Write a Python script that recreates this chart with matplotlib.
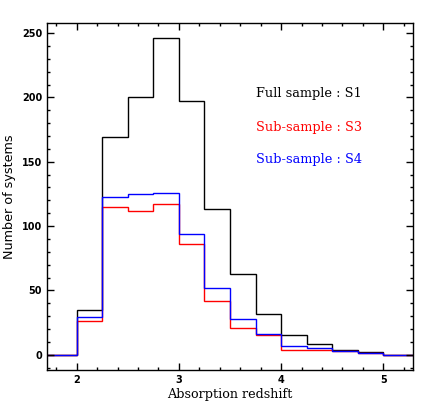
import matplotlib
matplotlib.use("Agg")
import matplotlib.pyplot as plt
from matplotlib.ticker import MultipleLocator

# bin edges in absorption redshift (first / last bins are empty padding)
edges = [1.5, 2.0, 2.25, 2.5, 2.75, 3.0, 3.25, 3.5, 3.75, 4.0, 4.25, 4.5, 4.75, 5.0, 5.5]

# number of systems per bin
full_s1 = [0, 35, 169, 200, 246, 197, 113, 63, 32, 15, 8, 4, 2, 0]
sub_s3 = [0, 26, 115, 112, 117, 86, 42, 21, 15, 4, 4, 3, 1, 0]
sub_s4 = [0, 29, 123, 125, 126, 94, 52, 28, 16, 7, 5, 3, 1, 0]

labels = ["Full sample : S1", "Sub-sample : S3", "Sub-sample : S4"]
colors = ["black", "red", "blue"]

fig = plt.figure(figsize=(4.36, 4.15), dpi=100)
ax = fig.add_axes([0.108, 0.108, 0.839, 0.837])

for vals, c in zip([full_s1, sub_s3, sub_s4], colors):
    ax.stairs(vals, edges, baseline=None, color=c, lw=1.0)

# labels in the upper right, coloured like the lines
for lab, c, yv in zip(labels, colors, [203, 177, 152]):
    ax.text(3.75, yv, lab, color=c, fontsize=9.3, family="DejaVu Serif",
            va="center", ha="left")

ax.set_xlim(1.71, 5.29)
ax.set_ylim(-12, 258)
ax.xaxis.set_major_locator(MultipleLocator(1))
ax.xaxis.set_minor_locator(MultipleLocator(0.2))
ax.yaxis.set_major_locator(MultipleLocator(50))
ax.yaxis.set_minor_locator(MultipleLocator(10))
ax.tick_params(which="both", direction="in", top=True, right=True,
               labelsize=7, width=1.0)
ax.tick_params(which="major", length=5)
ax.tick_params(which="minor", length=2.5)
for lbl in ax.get_xticklabels() + ax.get_yticklabels():
    lbl.set_fontweight("bold")
for sp in ax.spines.values():
    sp.set_linewidth(1.0)

ax.set_xlabel("Absorption redshift", family="DejaVu Serif", fontsize=9.2, labelpad=2)
ax.set_ylabel("Number of systems", fontsize=9.2, labelpad=4)

fig.savefig("out.png", dpi=100)
